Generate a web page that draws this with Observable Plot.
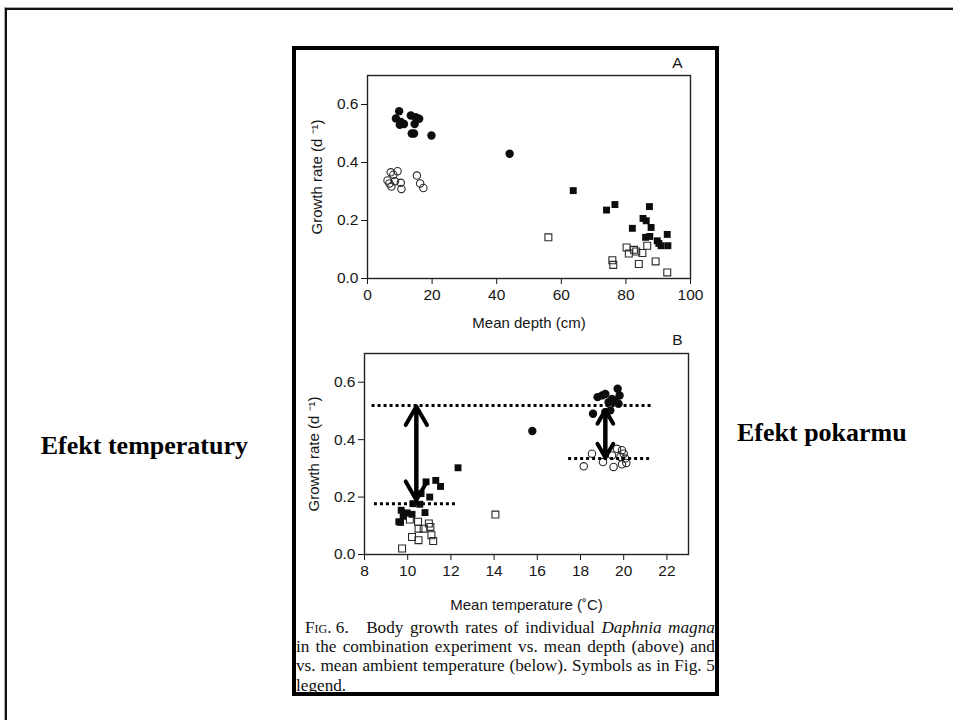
<!DOCTYPE html>
<html>
<head>
<meta charset="utf-8">
<script src="https://cdn.jsdelivr.net/npm/d3@7"></script>
<script src="https://cdn.jsdelivr.net/npm/@observablehq/plot@0.6"></script>
<style>
html, body { margin: 0; padding: 0; background: #fff; width: 953px; height: 720px; overflow: hidden; }
#outer { position: absolute; left: 5px; top: 8px; width: 1100px; height: 900px; border-left: 2px solid #111; border-top: 2px solid #111; box-shadow: -1px -1px 0 #aaa; }
#fig { position: absolute; left: 292px; top: 46px; width: 419px; height: 642px; border: 4px solid #000; background: #fff; }
#panelA { position: absolute; left: 0; top: 0; }
#panelB { position: absolute; left: 0; top: 285px; }
#caption { position: absolute; left: 0; top: 568px; width: 419px; font-family: "Liberation Serif", "Times New Roman", serif; font-size: 17.2px; line-height: 19.2px; color: #111; }
#caption .j { white-space: nowrap; display: flex; justify-content: space-between; }
.sc { font-variant: small-caps; }
.side { position: absolute; font-family: "Liberation Serif", "Times New Roman", serif; font-weight: bold; font-size: 26px; line-height: 30px; color: #000; white-space: nowrap; }
</style>
</head>
<body>
<div id="outer"></div>
<div class="side" id="leftLabel" style="left:0; width:248px; text-align:right; top:431px;">Efekt temperatury</div>
<div class="side" id="rightLabel" style="left:737px; top:418px;">Efekt pokarmu</div>
<div id="fig">
  <div id="panelA"></div>
  <div id="panelB"></div>
  <div id="caption"></div>
</div>
<script>
// ---------- Panel A: growth rate vs mean depth ----------
const aFilledCircleX = [9.8, 8.8, 10.3, 11.3, 10.0, 13.4, 14.6, 14.9, 16.0, 13.7, 14.4, 19.8, 44.0];
const aFilledCircleY = [0.577, 0.552, 0.540, 0.533, 0.530, 0.562, 0.533, 0.556, 0.551, 0.500, 0.500, 0.493, 0.430];
const aOpenCircleX = [7.2, 8.0, 6.2, 6.8, 7.4, 8.5, 9.3, 10.3, 10.5, 15.3, 16.3, 17.3];
const aOpenCircleY = [0.366, 0.358, 0.338, 0.328, 0.317, 0.335, 0.370, 0.330, 0.309, 0.355, 0.328, 0.312];
const aFilledSquareX = [63.7, 74.0, 76.6, 82.0, 87.3, 85.3, 86.3, 87.8, 86.1, 87.4, 89.7, 90.2, 90.9, 92.8, 93.0];
const aFilledSquareY = [0.303, 0.236, 0.255, 0.173, 0.248, 0.207, 0.199, 0.176, 0.142, 0.145, 0.130, 0.121, 0.113, 0.152, 0.113];
const aOpenSquareX = [56.0, 75.8, 76.1, 80.2, 80.9, 82.5, 83.2, 84.0, 85.1, 86.6, 89.2, 92.8];
const aOpenSquareY = [0.142, 0.063, 0.047, 0.107, 0.086, 0.099, 0.093, 0.050, 0.088, 0.113, 0.059, 0.021];

// ---------- Panel B: growth rate vs mean temperature ----------
const bFilledCircleX = [18.58, 18.79, 19.0, 19.15, 19.30, 19.38, 19.15, 19.46, 19.61, 19.76, 19.72, 19.81, 15.77];
const bFilledCircleY = [0.490, 0.548, 0.554, 0.559, 0.530, 0.502, 0.496, 0.542, 0.536, 0.525, 0.577, 0.554, 0.430];
const bOpenCircleX = [18.15, 18.53, 19.04, 19.46, 19.53, 19.69, 19.92, 20.0, 20.07, 20.12, 19.92, 19.85];
const bOpenCircleY = [0.307, 0.351, 0.322, 0.345, 0.305, 0.368, 0.363, 0.351, 0.334, 0.319, 0.314, 0.340];
const bFilledSquareX = [9.59, 9.67, 9.70, 9.79, 9.97, 10.20, 10.24, 10.56, 10.80, 10.85, 11.02, 11.30, 11.52, 12.33, 10.62];
const bFilledSquareY = [0.114, 0.112, 0.154, 0.133, 0.145, 0.140, 0.177, 0.175, 0.146, 0.253, 0.200, 0.258, 0.237, 0.302, 0.212];
const bOpenSquareX = [9.74, 10.10, 10.20, 10.50, 10.48, 10.50, 10.74, 10.98, 11.05, 11.10, 11.18, 14.06];
const bOpenSquareY = [0.021, 0.122, 0.061, 0.050, 0.114, 0.090, 0.090, 0.108, 0.096, 0.067, 0.047, 0.139];

// dotted reference levels (panel B)
const levelY = [0.519, 0.177, 0.334];
const levelX1 = [8.35, 8.46, 17.45];
const levelX2 = [21.3, 12.29, 21.3];
// double arrows (panel B)
const arrowX = [10.4, 19.15];
const arrowTop = [0.515, 0.503];
const arrowBottom = [0.190, 0.338];

// ticks & labels
const depthTicks = [0, 20, 40, 60, 80, 100];
const tempTicks = [8, 10, 12, 14, 16, 18, 20, 22];
const rateTicks = [0, 0.2, 0.4, 0.6];
const yLabel = "Growth rate (d \u207B\u00B9)";
const xLabelA = "Mean depth (cm)";
const xLabelB = "Mean temperature (\u02DAC)";

const zip = (xs, ys) => xs.map((x, i) => ({x, y: ys[i]}));
const ink = "#0d0d0d";
const axisInk = "#161616";
const sans = "'Liberation Sans', Arial, Helvetica, sans-serif";

function symbolMarks(fc, oc, fs, os) {
  return [
    Plot.dot(os, {x: "x", y: "y", symbol: "square", r: 3.9, fill: "none", stroke: "#2a2a2a", strokeWidth: 1.1}),
    Plot.dot(oc, {x: "x", y: "y", symbol: "circle", r: 3.7, fill: "none", stroke: "#2a2a2a", strokeWidth: 1.1}),
    Plot.dot(fs, {x: "x", y: "y", symbol: "square", r: 3.9, fill: ink, stroke: "none"}),
    Plot.dot(fc, {x: "x", y: "y", symbol: "circle", r: 4.2, fill: ink, stroke: "none"})
  ];
}

function labelMarks(xLabel, letter, letterDx, letterDy, xLabelDy) {
  return [
    Plot.text([xLabel], {text: d => d, frameAnchor: "bottom", dy: xLabelDy, textAnchor: "middle", lineAnchor: "middle", fontSize: 15, fill: axisInk}),
    Plot.text([yLabel], {text: d => d, frameAnchor: "left", dx: -50, rotate: -90, textAnchor: "middle", lineAnchor: "middle", fontSize: 15, fill: axisInk}),
    Plot.text([letter], {text: d => d, frameAnchor: "top-right", dx: letterDx, dy: letterDy, textAnchor: "middle", lineAnchor: "middle", fontSize: 15.5, fill: axisInk})
  ];
}

const plotA = Plot.plot({
  width: 419, height: 285,
  marginLeft: 71, marginRight: 25, marginTop: 25, marginBottom: 57,
  style: {fontFamily: sans, fontSize: "15.5px", color: axisInk, background: "transparent", overflow: "visible"},
  x: {domain: [0, 100], ticks: depthTicks, tickSize: 6, tickPadding: 4, label: null},
  y: {domain: [0, 0.7], ticks: rateTicks, tickFormat: ".1f", tickSize: 6, tickPadding: 3, label: null},
  marks: [
    Plot.frame({stroke: "#222", strokeWidth: 1.4}),
    ...symbolMarks(zip(aFilledCircleX, aFilledCircleY), zip(aOpenCircleX, aOpenCircleY),
                   zip(aFilledSquareX, aFilledSquareY), zip(aOpenSquareX, aOpenSquareY)),
    ...labelMarks(xLabelA, "A", -13, -12, 45)
  ]
});
document.getElementById("panelA").appendChild(plotA);

const levels = levelY.map((y, i) => ({y, x1: levelX1[i], x2: levelX2[i]}));
const arrows = arrowX.map((x, i) => ({x, top: arrowTop[i], bottom: arrowBottom[i]}));

const plotB = Plot.plot({
  width: 419, height: 280,
  marginLeft: 68, marginRight: 27, marginTop: 18, marginBottom: 61,
  style: {fontFamily: sans, fontSize: "15.5px", color: axisInk, background: "transparent", overflow: "visible"},
  x: {domain: [8, 23], ticks: tempTicks, tickSize: 6, tickPadding: 4, label: null},
  y: {domain: [0, 0.7], ticks: rateTicks, tickFormat: ".1f", tickSize: 6, tickPadding: 3, label: null},
  marks: [
    Plot.frame({stroke: "#222", strokeWidth: 1.4}),
    ...symbolMarks(zip(bFilledCircleX, bFilledCircleY), zip(bOpenCircleX, bOpenCircleY),
                   zip(bFilledSquareX, bFilledSquareY), zip(bOpenSquareX, bOpenSquareY)),
    Plot.ruleY(levels, {y: "y", x1: "x1", x2: "x2", stroke: "#000", strokeWidth: 3, strokeDasharray: "3,3"}),
    Plot.arrow(arrows, {x1: "x", x2: "x", y1: "bottom", y2: "top", stroke: "#000", strokeWidth: 4, headAngle: 60, headLength: 8}),
    Plot.arrow(arrows, {x1: "x", x2: "x", y1: "top", y2: "bottom", stroke: "#000", strokeWidth: 4, headAngle: 60, headLength: 8}),
    ...labelMarks(xLabelB, "B", -11, -13, 51)
  ]
});
document.getElementById("panelB").appendChild(plotB);

// caption
const captionLines = [
  {html: '<span style="padding-left:9px"><span class="sc">Fig.</span> 6.</span><span>&nbsp;</span><span>Body</span><span>growth</span><span>rates</span><span>of</span><span>individual</span><span><i>Daphnia</i></span><span><i>magna</i></span>', justify: true},
  {text: "in the combination experiment vs. mean depth (above) and", justify: true},
  {text: "vs. mean ambient temperature (below). Symbols as in Fig. 5", justify: true},
  {text: "legend.", justify: false}
];
const cap = document.getElementById("caption");
captionLines.forEach(l => {
  const div = document.createElement("div");
  if (l.justify) {
    div.className = "j";
    if (l.html) div.innerHTML = l.html;
    else div.innerHTML = l.text.split(" ").map(w => "<span>" + w + "</span>").join("");
  } else {
    div.textContent = l.text;
  }
  cap.appendChild(div);
});
</script>
</body>
</html>
